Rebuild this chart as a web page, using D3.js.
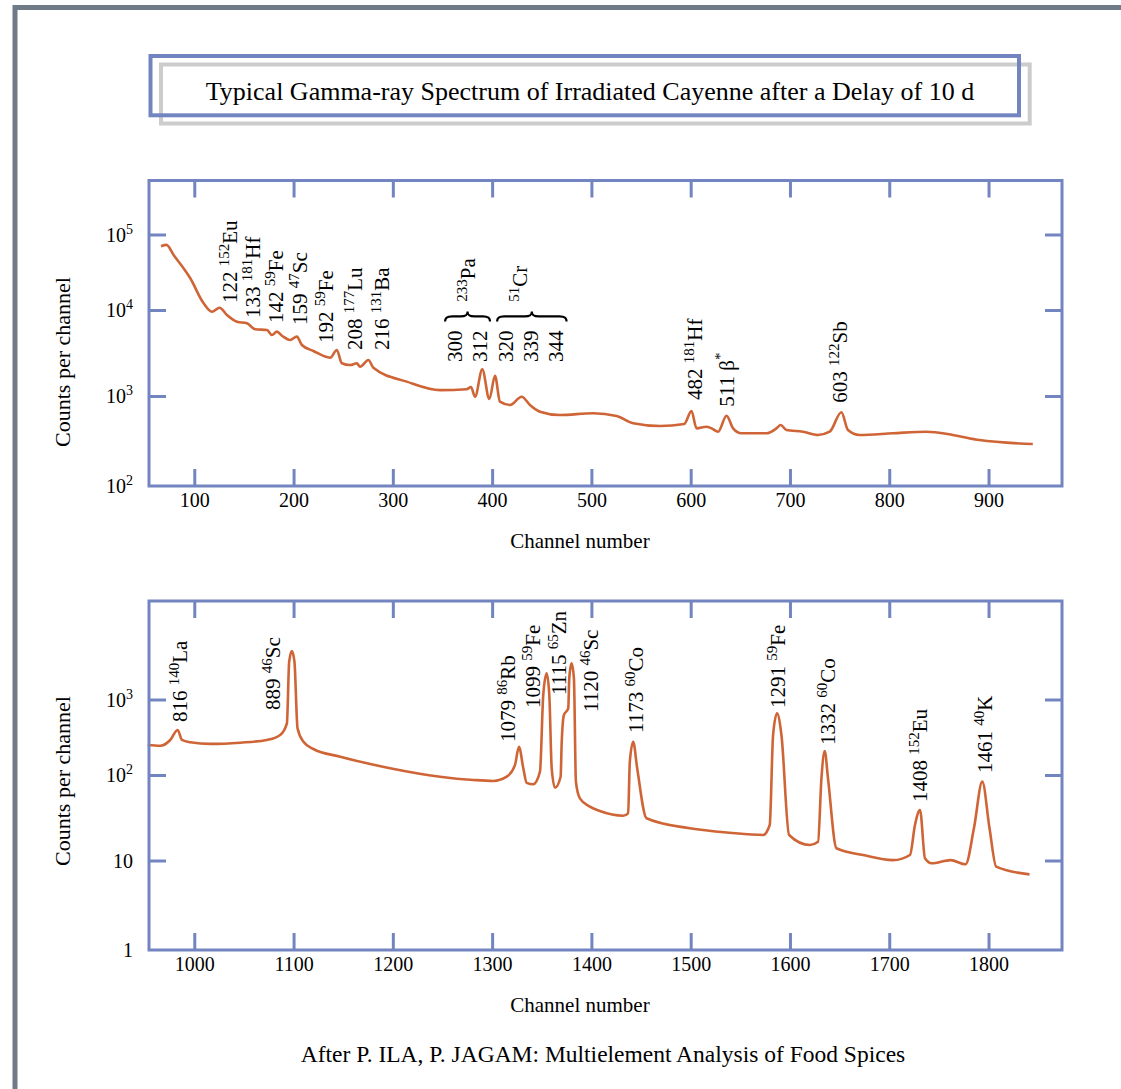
<!DOCTYPE html>
<html>
<head>
<meta charset="utf-8">
<script src="https://cdn.jsdelivr.net/npm/d3@7"></script>
<style>
body { margin: 0; background: #fff; }
svg text { font-family: "Liberation Serif", "Times New Roman", serif; fill: #000; }
</style>
</head>
<body>
<svg class="figure" width="1121" height="1089"></svg>
<script>
// spectrum 1: channels 60-950
var topChannels = [66.5, 72, 79.2, 96, 109.4, 117.8, 125.5, 132.9, 143, 153, 161.4, 173.2, 178.2, 183.2, 188.3,
  196.6, 203.3, 208.4, 220, 236.9, 243.6, 248.6, 257, 263.7, 267, 275.4, 280.4, 314, 347.5, 374.4, 378.7,
  382.8, 390.1, 397.2, 402.9, 407.9, 418, 429.8, 438.1, 448.2, 468.3, 501.8, 525.4, 542.1, 569, 593.5,
  600.8, 605.9, 615.9, 621, 627.6, 636.1, 642.7, 651.1, 676.3, 686.4, 690.7, 696.4, 713.1, 728.2, 740,
  751.8, 758.4, 770, 803.7, 837.3, 864.1, 890.9, 944.6];
var topCounts = [70000, 72800, 53700, 26300, 12270, 9550, 10720, 8750, 7310, 7000, 5970, 5850, 5120, 5600, 5020,
  4480, 4900, 3920, 3340, 2790, 3430, 2400, 2290, 2400, 2190, 2620, 2130, 1470, 1170, 1200, 1270,
  980, 2040, 926, 1720, 865, 794, 982, 794, 670, 615, 643, 600, 498, 464, 489,
  681, 437, 456, 437, 401, 604, 437, 385, 385, 437, 476, 419, 401, 369, 401,
  659, 419, 369, 385, 401, 369, 324, 293];

// spectrum 2: channels 950-1840
var bottomChannels = [953, 965.8, 975.8, 983.2, 987.6, 996, 1016.1, 1046.3, 1073.1, 1086.5, 1093.3, 1095.6,
  1098.3, 1100.9, 1104, 1110, 1120, 1147, 1197.2, 1247.5, 1281, 1301.2, 1314.7, 1323, 1327, 1331.4,
  1334.8, 1341.4, 1348.2, 1351.5, 1354.9, 1357.6, 1360, 1363.3, 1369, 1370, 1372.3, 1376.7, 1377.7,
  1380, 1382.4, 1384.4, 1388.4, 1398.5, 1408.5, 1432, 1437, 1438.7, 1442.1, 1446.1, 1455.5, 1499.1,
  1539.4, 1573, 1579.6, 1583, 1587, 1591.4, 1599.1, 1619.9, 1628.3, 1631.7, 1635, 1638.3, 1646.8,
  1673.6, 1703.8, 1720.9, 1725.9, 1731, 1736, 1742.7, 1761.8, 1776.9, 1785.3, 1793.7, 1801, 1807.7, 1841.3];
var bottomCounts = [250, 244, 291, 395, 291, 271, 258, 268, 291, 339, 484, 3170,
  4390, 3170, 416, 276, 221, 175, 123, 95.5, 87.5, 85.2, 95.5, 135, 237, 123,
  81, 78, 111, 1147, 2220, 1147, 123, 71, 95.5, 250, 623, 764, 1910,
  3010, 1910, 83.6, 53.3, 42.6, 37.9, 33.4, 35.6, 150, 276, 123, 31.2, 23.8,
  21.1, 19.9, 26, 339, 656, 339, 19.9, 15.2, 16.6, 91.4, 208, 91.4, 13.9,
  11.6, 10.1, 11.6, 26, 38.9, 10.6, 9.3, 10.1, 9.07, 23.8, 83.6, 23.8, 8.53, 7.0];

var topXTicks = [100, 200, 300, 400, 500, 600, 700, 800, 900];
var bottomXTicks = [1000, 1100, 1200, 1300, 1400, 1500, 1600, 1700, 1800];
var topYTicks = [100, 1000, 10000, 100000];
var topYLabels = [["10", "2"], ["10", "3"], ["10", "4"], ["10", "5"]];
var bottomYTicks = [1, 10, 100, 1000];
var bottomYLabels = [["1", ""], ["10", ""], ["10", "2"], ["10", "3"]];

// peak annotations, anchored at (channel, counts)
var topPeaks = [
  {energy: "122", mass: "152", element: "Eu", channel: 143.3, count: 12380},
  {energy: "133", mass: "181", element: "Hf", channel: 166.4, count: 8070},
  {energy: "142", mass: "59", element: "Fe", channel: 189.6, count: 7060},
  {energy: "159", mass: "47", element: "Sc", channel: 213.7, count: 6700},
  {energy: "192", mass: "59", element: "Fe", channel: 239.9, count: 4130},
  {energy: "208", mass: "177", element: "Lu", channel: 269.1, count: 3430},
  {energy: "216", mass: "131", element: "Ba", channel: 296.2, count: 3430},
  {energy: "300", mass: "", element: "", channel: 369.4, count: 2480},
  {energy: "312", mass: "", element: "", channel: 395.1, count: 2480},
  {energy: "320", mass: "", element: "", channel: 421, count: 2480},
  {energy: "339", mass: "", element: "", channel: 446.2, count: 2480},
  {energy: "344", mass: "", element: "", channel: 471.3, count: 2480},
  {energy: "", mass: "233", element: "Pa", channel: 382.8, count: 12880},
  {energy: "", mass: "51", element: "Cr", channel: 435.1, count: 12880},
  {energy: "482", mass: "181", element: "Hf", channel: 611.2, count: 903},
  {energy: "511", mass: "", element: "\u03b2", after: "*", channel: 643.4, count: 760},
  {energy: "603", mass: "122", element: "Sb", channel: 757.1, count: 843}
];
var topBraces = [
  {from: 352.6, to: 397.9, count: 7350, tip: 9620},
  {from: 405, to: 475, count: 7350, tip: 9620}
];
var bottomPeaks = [
  {energy: "816", mass: "140", element: "La", channel: 993, count: 503},
  {energy: "889", mass: "46", element: "Sc", channel: 1086.5, count: 726},
  {energy: "1079", mass: "86", element: "Rb", channel: 1323, count: 274},
  {energy: "1099", mass: "59", element: "Fe", channel: 1348.2, count: 771},
  {energy: "1115", mass: "65", element: "Zn", channel: 1374.3, count: 1147},
  {energy: "1120", mass: "46", element: "Sc", channel: 1406.5, count: 682},
  {energy: "1173", mass: "60", element: "Co", channel: 1451.8, count: 359},
  {energy: "1291", mass: "59", element: "Fe", channel: 1594.7, count: 771},
  {energy: "1332", mass: "60", element: "Co", channel: 1645, count: 250},
  {energy: "1408", mass: "152", element: "Eu", channel: 1737.6, count: 48.3},
  {energy: "1461", mass: "40", element: "K", channel: 1803, count: 106}
];

var blue = "#7385c1";
var orange = "#cf6536";
var svg = d3.select("svg.figure");

// page frame
svg.append("path")
  .attr("d", "M15,1100V7.5H1130")
  .attr("fill", "none")
  .attr("stroke", "#6f7c87")
  .attr("stroke-width", 5);

// title boxes
svg.append("rect")
  .attr("x", 161).attr("y", 64.5)
  .attr("width", 868.7).attr("height", 59)
  .attr("fill", "none").attr("stroke", "#cccccc").attr("stroke-width", 4);
svg.append("rect")
  .attr("x", 150.5).attr("y", 56)
  .attr("width", 868.5).attr("height", 59.3)
  .attr("fill", "none").attr("stroke", blue).attr("stroke-width", 4);
svg.append("text")
  .attr("x", 590).attr("y", 100)
  .attr("text-anchor", "middle")
  .style("font-size", "26px")
  .text("Typical Gamma-ray Spectrum of Irradiated Cayenne after a Delay of 10 d");

function drawPanel(opts) {
  var x = opts.x, y = opts.y;
  var left = x.range()[0], right = x.range()[1];
  var yr = y.range();
  var bottom = yr[0], top = yr[yr.length - 1];
  var g = svg.append("g");

  var line = d3.line()
    .x(function(d) { return x(d[0]); })
    .y(function(d) { return y(d[1]); })
    .curve(d3.curveMonotoneX);

  g.append("path")
    .datum(d3.zip(opts.channels, opts.counts))
    .attr("d", line)
    .attr("fill", "none")
    .attr("stroke", orange)
    .attr("stroke-width", 2.6)
    .attr("stroke-linejoin", "round");

  var inner = opts.yTicks.slice(1);
  var axes = [
    {axis: d3.axisBottom(x).tickValues(opts.xTicks).tickSize(-17).tickPadding(7).tickFormat(d3.format("d")), t: "translate(0," + bottom + ")"},
    {axis: d3.axisTop(x).tickValues(opts.xTicks).tickSize(-17).tickFormat(""), t: "translate(0," + top + ")"},
    {axis: d3.axisLeft(y).tickValues(inner).tickSize(-17).tickFormat(""), t: "translate(" + left + ",0)"},
    {axis: d3.axisRight(y).tickValues(inner).tickSize(-17).tickFormat(""), t: "translate(" + right + ",0)"}
  ];
  axes.forEach(function(a) {
    var ag = g.append("g").attr("transform", a.t).call(a.axis.tickSizeOuter(0));
    ag.select(".domain").remove();
    ag.selectAll("line").attr("stroke", blue).attr("stroke-width", 3);
    ag.selectAll("text")
      .attr("font-family", null)
      .style("font-size", "20px")
      .attr("fill", "#000");
  });

  g.append("rect")
    .attr("x", left).attr("y", top)
    .attr("width", right - left).attr("height", bottom - top)
    .attr("fill", "none").attr("stroke", blue).attr("stroke-width", 3);

  opts.yTicks.forEach(function(v, i) {
    var lab = opts.yLabels[i];
    var t = g.append("text")
      .attr("x", 133).attr("y", y(v) + 7)
      .attr("text-anchor", "end")
      .style("font-size", "20px");
    t.append("tspan").text(lab[0]);
    if (lab[1]) {
      t.append("tspan").attr("dy", -8).style("font-size", "14px").text(lab[1]);
    }
  });

  opts.peaks.forEach(function(p) {
    var t = g.append("text")
      .attr("transform", "translate(" + x(p.channel) + "," + y(p.count) + ") rotate(-90)")
      .style("font-size", "21px");
    if (p.energy) t.append("tspan").text(p.energy + (p.mass || p.element ? " " : ""));
    if (p.mass) {
      t.append("tspan").attr("dy", -8).style("font-size", "15px").text(p.mass);
      t.append("tspan").attr("dy", 8).text(p.element);
    } else if (p.element) {
      t.append("tspan").text(p.element);
    }
    if (p.after) {
      t.append("tspan").attr("dy", -9).style("font-size", "15px").text(p.after);
    }
  });

  (opts.braces || []).forEach(function(b) {
    var x1 = x(b.from), x2 = x(b.to), xm = (x1 + x2) / 2;
    var yb = y(b.count), yt = y(b.tip), ym = (yb + yt) / 2;
    var q = 7;
    var d = "M" + x1 + "," + yb +
      "C" + x1 + "," + (ym + 1) + " " + (x1 + 2) + "," + ym + " " + (x1 + q) + "," + ym +
      "L" + (xm - q) + "," + ym +
      "C" + (xm - 2) + "," + ym + " " + xm + "," + (ym - 1) + " " + xm + "," + yt +
      "C" + xm + "," + (ym - 1) + " " + (xm + 2) + "," + ym + " " + (xm + q) + "," + ym +
      "L" + (x2 - q) + "," + ym +
      "C" + (x2 - 2) + "," + ym + " " + x2 + "," + (ym + 1) + " " + x2 + "," + yb;
    g.append("path")
      .attr("d", d)
      .attr("fill", "none")
      .attr("stroke", "#000")
      .attr("stroke-width", 2.2);
  });

  g.append("text")
    .attr("x", 580).attr("y", bottom + 62)
    .attr("text-anchor", "middle")
    .style("font-size", "21px")
    .text("Channel number");

  g.append("text")
    .attr("transform", "translate(70," + opts.titleY + ") rotate(-90)")
    .attr("text-anchor", "middle")
    .style("font-size", "22px")
    .text("Counts per channel");
}

drawPanel({
  x: d3.scaleLinear().domain([54.4, 974]).range([149, 1062]),
  y: d3.scaleLog().domain([1e2, 1e3, 1e4, 1e5, 5.14e5]).range([486, 396, 310, 234.5, 180.5]),
  channels: topChannels, counts: topCounts,
  xTicks: topXTicks, yTicks: topYTicks, yLabels: topYLabels,
  peaks: topPeaks, braces: topBraces, titleY: 362
});

drawPanel({
  x: d3.scaleLinear().domain([954.4, 1874]).range([149, 1062]),
  y: d3.scaleLog().domain([1, 10, 100, 1000, 20180]).range([950, 860.5, 775, 699.5, 601]),
  channels: bottomChannels, counts: bottomCounts,
  xTicks: bottomXTicks, yTicks: bottomYTicks, yLabels: bottomYLabels,
  peaks: bottomPeaks, titleY: 781
});

svg.append("text")
  .attr("x", 603).attr("y", 1062)
  .attr("text-anchor", "middle")
  .style("font-size", "23.5px")
  .text("After P. ILA, P. JAGAM: Multielement Analysis of Food Spices");
</script>
</body>
</html>
